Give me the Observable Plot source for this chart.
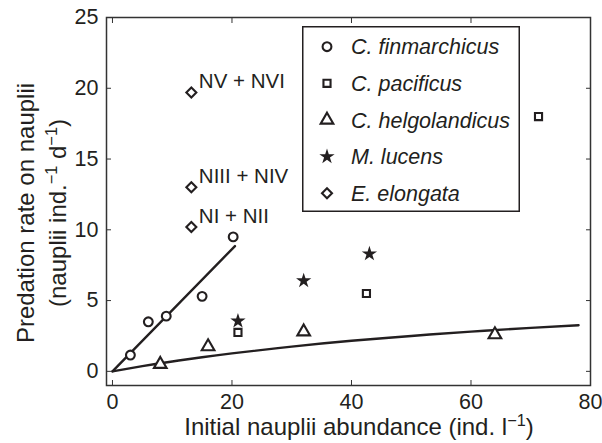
<!DOCTYPE html>
<html>
<head>
<meta charset="utf-8">
<script src="https://cdn.jsdelivr.net/npm/d3@7"></script>
<script src="https://cdn.jsdelivr.net/npm/@observablehq/plot@0.6"></script>
<style>
  body { margin: 0; background: #fff; }
  #chart { position: relative; width: 602px; height: 443px; font-family: "Liberation Sans", Arial, sans-serif; color: #231f20; }
  #legend { position: absolute; left: 302px; top: 26px; }
</style>
</head>
<body>
<div id="chart"></div>
<script>
// Predation rate on nauplii vs. initial nauplii abundance, by predator species
const finmarchicusX = [3, 6, 9, 15, 20.2];
const finmarchicusY = [1.15, 3.5, 3.9, 5.3, 9.5];
const pacificusX = [21, 42.5, 71.3];
const pacificusY = [2.75, 5.5, 18];
const helgolandicusX = [8, 16, 32, 64];
const helgolandicusY = [0.5, 1.75, 2.8, 2.6];
const lucensX = [21, 32, 43];
const lucensY = [3.55, 6.4, 8.3];
const elongataX = [13.2, 13.2, 13.2];
const elongataY = [10.2, 13.0, 19.7];
const elongataStages = ["NI + NII", "NIII + NIV", "NV + NVI"];

// Linear fit for C. finmarchicus
const finFitX = [0, 20.5];
const finFitY = [0, 8.85];
// Saturating fit for C. helgolandicus
const helgoFitX = [0, 5, 10, 15, 20, 30, 40, 50, 60, 70, 78];
const helgoFitY = [0, 0.37, 0.7, 1.0, 1.27, 1.75, 2.16, 2.5, 2.81, 3.07, 3.26];

const xTicks = [0, 20, 40, 60, 80];
const yTicks = [0, 5, 10, 15, 20, 25];

const speciesNames = ["C. finmarchicus", "C. pacificus", "C. helgolandicus", "M. lucens", "E. elongata"];
const speciesSymbols = ["circle", "square", "triangle", "star", "diamond2"];
const speciesR = [4.4, 4, 4.7, 4.8, 4.5];
const speciesFilled = [false, false, false, true, false];

const ink = "#231f20";
const font = "'Liberation Sans', Arial, sans-serif";

const table = (xs, ys, extra = {}) => xs.map((x, i) => ({x, y: ys[i], ...Object.fromEntries(Object.entries(extra).map(([k, v]) => [k, v[i]]))}));

const seriesXY = [
  [finmarchicusX, finmarchicusY],
  [pacificusX, pacificusY],
  [helgolandicusX, helgolandicusY],
  [lucensX, lucensY],
  [elongataX, elongataY]
];

const dotMarks = seriesXY.map(([xs, ys], k) => Plot.dot(table(xs, ys), {
  x: "x", y: "y",
  symbol: () => speciesSymbols[k],
  r: speciesR[k],
  stroke: speciesFilled[k] ? "none" : ink,
  fill: speciesFilled[k] ? ink : "white",
  strokeWidth: 2.1
}));

const noText = () => "";

const plot = Plot.plot({
  width: 602,
  height: 443,
  marginLeft: 106,
  marginRight: 12,
  marginTop: 17,
  marginBottom: 58,
  style: {fontFamily: font, fontSize: "21px", color: ink, background: "white", overflow: "visible"},
  x: {domain: [-1, 80]},
  y: {domain: [-1, 25]},
  marks: [
    // tick labels
    Plot.axisX(xTicks, {anchor: "bottom", tickSize: 0, tickPadding: 8, label: null, fontSize: 21.5}),
    Plot.axisY(yTicks, {anchor: "left", tickSize: 0, tickPadding: 8, label: null, fontSize: 21.5}),
    // inward tick marks on all four sides
    Plot.axisX(xTicks, {anchor: "bottom", tickSize: 5, dy: -5, tickFormat: noText, label: null, stroke: "#333"}),
    Plot.axisX(xTicks, {anchor: "top", tickSize: 5, dy: 5, tickFormat: noText, label: null, stroke: "#333"}),
    Plot.axisY(yTicks, {anchor: "left", tickSize: 5, dx: 5, tickFormat: noText, label: null, stroke: "#333"}),
    Plot.axisY(yTicks, {anchor: "right", tickSize: 5, dx: -5, tickFormat: noText, label: null, stroke: "#333"}),
    Plot.frame({stroke: "#333", strokeWidth: 1.5}),
    // fitted relationships
    Plot.line(table(finFitX, finFitY), {x: "x", y: "y", stroke: ink, strokeWidth: 2.4}),
    Plot.line(table(helgoFitX, helgoFitY), {x: "x", y: "y", stroke: ink, strokeWidth: 2.4, curve: "natural"}),
    ...dotMarks,
    // developmental stage labels for E. elongata
    Plot.text(table(elongataX, elongataY, {stage: elongataStages}), {
      x: "x", y: "y", text: "stage", textAnchor: "start", dx: 7.5, dy: -11, fontSize: 20.5, fill: ink
    })
  ]
});

const svg = d3.select(plot);

// Writes plain and superscript runs into one text element; the run after a
// superscript carries the shift back down to the baseline.
function addRich(textSel, parts) {
  let pendingDrop = null;
  parts.forEach(p => {
    if (typeof p === "string") {
      const t = textSel.append("tspan").text(p);
      if (pendingDrop) t.attr("dy", pendingDrop);
      pendingDrop = null;
    } else {
      const t = textSel.append("tspan").attr("font-size", "0.68em").text(p.sup);
      t.attr("dy", pendingDrop ? "0em" : "-0.55em");
      pendingDrop = "0.374em";
    }
  });
}

const labelSize = 24;

const xLabel = svg.append("text")
  .attr("x", 359).attr("y", 435)
  .attr("text-anchor", "middle")
  .attr("font-family", font).attr("font-size", labelSize).attr("fill", ink);
addRich(xLabel, ["Initial nauplii abundance (ind. l", {sup: "\u22121"}, ")"]);

svg.append("text")
  .attr("transform", "translate(34,213) rotate(-90)")
  .attr("text-anchor", "middle")
  .attr("font-family", font).attr("font-size", labelSize).attr("fill", ink)
  .text("Predation rate on nauplii");

const yLabel2 = svg.append("text")
  .attr("transform", "translate(66,213) rotate(-90)")
  .attr("text-anchor", "middle")
  .attr("font-family", font).attr("font-size", labelSize).attr("fill", ink);
addRich(yLabel2, ["(nauplii ind.", {sup: "\u22121"}, " d", {sup: "\u22121"}, ")"]);

document.getElementById("chart").appendChild(plot);

// legend box
const lw = 218, lh = 186, rowGap = 36.65, firstRow = 20.7;
const legend = d3.select("#chart").append("svg")
  .attr("id", "legend").attr("width", lw).attr("height", lh);
legend.append("rect")
  .attr("x", 0.75).attr("y", 0.75).attr("width", lw - 1.5).attr("height", lh - 1.5)
  .attr("fill", "white").attr("stroke", ink).attr("stroke-width", 1.5);
const symbolTypes = {circle: d3.symbolCircle, square: d3.symbolSquare, triangle: d3.symbolTriangle, star: d3.symbolStar, diamond2: d3.symbolDiamond2};
speciesNames.forEach((name, k) => {
  const cy = firstRow + k * rowGap;
  legend.append("path")
    .attr("transform", `translate(25,${cy})`)
    .attr("d", d3.symbol(symbolTypes[speciesSymbols[k]], Math.PI * speciesR[k] ** 2)())
    .attr("fill", speciesFilled[k] ? ink : "white")
    .attr("stroke", speciesFilled[k] ? "none" : ink)
    .attr("stroke-width", 2.1);
  legend.append("text")
    .attr("x", 49).attr("y", cy + 7.5)
    .attr("font-family", font).attr("font-size", 21.5).attr("font-style", "italic").attr("fill", ink)
    .text(name);
});
</script>
</body>
</html>
